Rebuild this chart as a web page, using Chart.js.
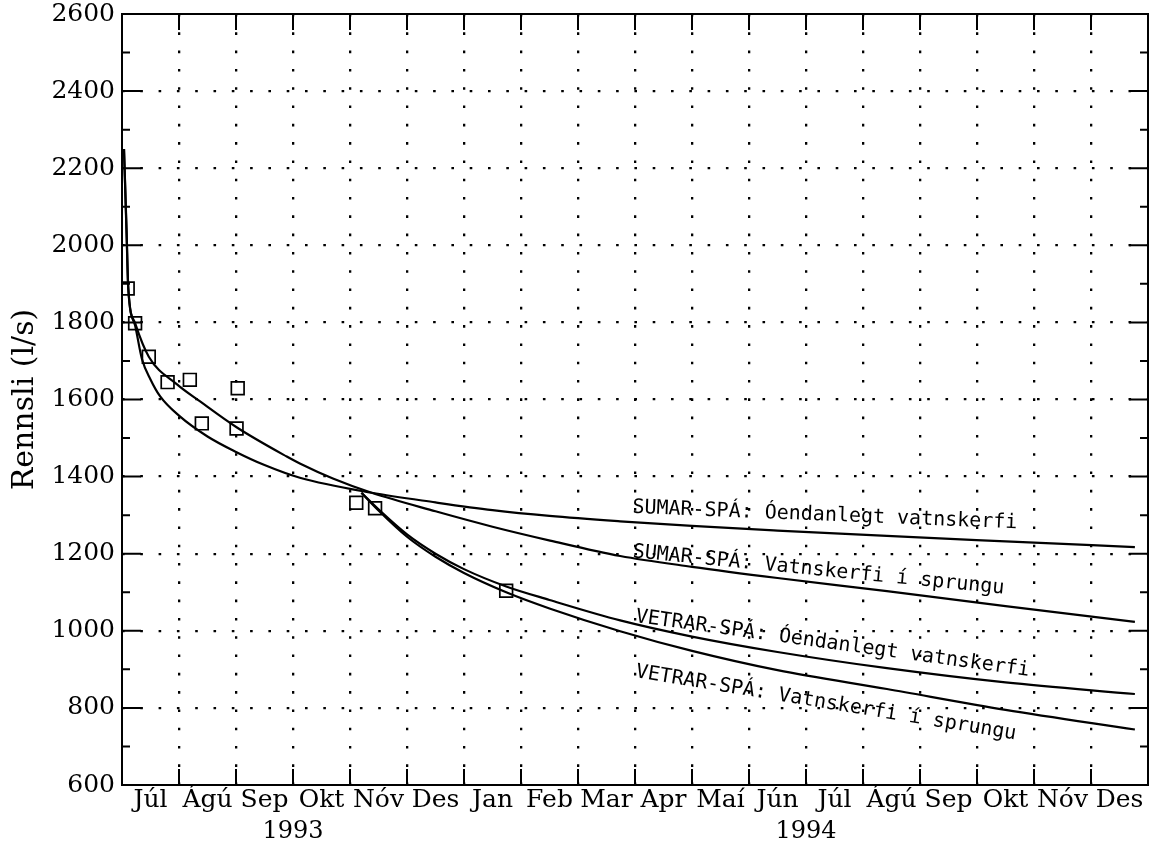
<!DOCTYPE html>
<html><head><meta charset="utf-8">
<script src="https://cdn.jsdelivr.net/npm/chart.js@4.4.0/dist/chart.umd.min.js"></script>
<style>html,body{margin:0;padding:0;background:#fff;} canvas{display:block;}</style>
</head><body>
<canvas id="c" width="1150" height="852"></canvas>
<script>
// ---- data (x in months from 1 July 1993) ----
const monthLabels = ['Júl','Ágú','Sep','Okt','Nóv','Des','Jan','Feb','Mar','Apr','Maí','Jún','Júl','Ágú','Sep','Okt','Nóv','Des'];
const yearLabels = ['1993','1994'];
const yearTickMonths = [3, 12];
const yTickValues = [600, 800, 1000, 1200, 1400, 1600, 1800, 2000, 2200, 2400, 2600];

const obsMonths = [0.10, 0.23, 0.47, 0.80, 1.19, 1.40, 2.03, 2.01, 4.11, 4.44, 6.74];
const obsFlow   = [1888, 1798, 1711, 1645, 1651, 1538, 1629, 1525, 1332, 1318, 1104];

const sumarInfMonths = [0.035, 0.08, 0.11, 0.23, 0.35, 0.5, 0.67, 1.0, 1.5, 2.0, 2.5, 3.12, 4.38, 5.5, 6.5, 7.5, 8.74, 10, 11.5, 13.42, 15.5, 17.77];
const sumarInfFlow   = [2250, 2040, 1890, 1792, 1705, 1652, 1608, 1558, 1504, 1464, 1430, 1397, 1358, 1333, 1313, 1298, 1284, 1272, 1260, 1246, 1232, 1217];

const sumarSprMonths = [0.035, 0.08, 0.11, 0.23, 0.47, 0.96, 1.37, 2.01, 2.89, 3.12, 3.7, 4.38, 5.5, 6.5, 7.51, 8.74, 10, 11.5, 13.42, 15.5, 17.77];
const sumarSprFlow   = [2250, 2030, 1888, 1798, 1711, 1640, 1595, 1528, 1452, 1434, 1395, 1358, 1310, 1270, 1234, 1194, 1166, 1137, 1103, 1064, 1023];

const vetrarMonths   = [4.2, 4.5, 5.0, 5.5, 6.0, 6.74, 7.5, 8.74, 10, 11.5, 13.42, 15.5, 17.77];
const vetrarInfFlow  = [1358, 1315, 1250, 1200, 1160, 1115, 1080, 1027, 985, 945, 903, 866, 836];
const vetrarSprFlow  = [1358, 1312, 1244, 1192, 1150, 1100, 1058, 999, 948, 898, 849, 795, 744];

const pts = (xs, ys) => xs.map((x, i) => ({x: x, y: ys[i]}));

// ---- annotation placement (data-anchored) ----
const annotations = [
  {text: 'SUMAR-SPÁ: Óendanlegt vatnskerfi', m: 8.95, v: 1306, angle: 2.3},
  {text: 'SUMAR-SPÁ: Vatnskerfi í sprungu',  m: 8.95, v: 1191, angle: 5.6},
  {text: 'VETRAR-SPÁ: Óendanlegt vatnskerfi', m: 9.0, v: 1023, angle: 7.8},
  {text: 'VETRAR-SPÁ: Vatnskerfi í sprungu',  m: 9.0, v: 880,  angle: 9.3}
];

const frameTicks = {
  id: 'frameTicks',
  afterDraw(chart) {
    const {ctx, chartArea: a, scales} = chart;
    const xs = scales.x, ys = scales.y;
    ctx.save();
    ctx.setLineDash([]);
    ctx.strokeStyle = '#000';
    ctx.lineWidth = 2;
    ctx.strokeRect(a.left, a.top, a.right - a.left, a.bottom - a.top);
    ctx.beginPath();
    for (let v = 700; v < 2600; v += 100) {
      const y = ys.getPixelForValue(v);
      const len = (v % 200 === 0) ? 19 : 8;
      ctx.moveTo(a.left, y); ctx.lineTo(a.left + len, y);
      ctx.moveTo(a.right, y); ctx.lineTo(a.right - len, y);
    }
    for (let m = 1; m < 18; m++) {
      const x = xs.getPixelForValue(m);
      ctx.moveTo(x, a.bottom); ctx.lineTo(x, a.bottom - 16);
      ctx.moveTo(x, a.top); ctx.lineTo(x, a.top + 16);
    }
    ctx.stroke();
    ctx.fillStyle = '#000';
    ctx.font = '20px "DejaVu Sans Mono"';
    ctx.textBaseline = 'alphabetic';
    ctx.textAlign = 'left';
    annotations.forEach(an => {
      ctx.save();
      ctx.translate(xs.getPixelForValue(an.m), ys.getPixelForValue(an.v));
      ctx.rotate(an.angle * Math.PI / 180);
      ctx.fillText(an.text, 0, 0);
      ctx.restore();
    });
    ctx.restore();
  }
};

const lineDs = (data) => ({
  type: 'line', data: data, borderColor: '#000', borderWidth: 2.2, pointRadius: 0,
  fill: false, cubicInterpolationMode: 'monotone'
});

const isHalf = v => Math.abs(v - Math.round(v)) > 0.01;

new Chart(document.getElementById('c').getContext('2d'), {
  type: 'line',
  data: {
    datasets: [
      lineDs(pts(sumarInfMonths, sumarInfFlow)),
      lineDs(pts(sumarSprMonths, sumarSprFlow)),
      lineDs(pts(vetrarMonths, vetrarInfFlow)),
      lineDs(pts(vetrarMonths, vetrarSprFlow)),
      {type: 'scatter', data: pts(obsMonths, obsFlow), showLine: false, pointStyle: 'rect',
       pointRadius: 9, borderColor: '#000', borderWidth: 1.7, backgroundColor: 'rgba(0,0,0,0)'}
    ]
  },
  options: {
    responsive: false, animation: false, devicePixelRatio: 1,
    layout: {autoPadding: false, padding: {top: 14, right: 2, left: 0, bottom: 0}},
    plugins: {legend: {display: false}, tooltip: {enabled: false}},
    scales: {
      x: {
        type: 'linear', min: 0, max: 18,
        afterBuildTicks: s => { const t = []; for (let i = 0; i <= 36; i++) t.push({value: i / 2}); s.ticks = t; },
        afterFit: s => { s.height = 67; s.paddingLeft = 0; s.paddingRight = 0; },
        ticks: {
          autoSkip: false, maxRotation: 0, minRotation: 0, padding: 0, color: '#000',
          font: c => (c.tick && isHalf(c.tick.value))
            ? {family: 'DejaVu Serif', size: 25, lineHeight: 1.2}
            : {family: 'DejaVu Serif', size: 24, lineHeight: 1.3},
          callback: (value) => {
            if (isHalf(value)) return monthLabels[Math.floor(value)];
            const k = yearTickMonths.indexOf(Math.round(value));
            return k >= 0 ? ['', yearLabels[k]] : '';
          }
        },
        grid: {
          drawTicks: false, lineWidth: 2.3,
          color: c => { const v = c.tick ? c.tick.value : -1; return (Number.isInteger(v) && v > 0 && v < 18) ? '#000' : 'rgba(0,0,0,0)'; }
        },
        border: {display: false, dash: [2.6, 15.7]}
      },
      y: {
        min: 600, max: 2600,
        afterBuildTicks: s => { s.ticks = yTickValues.map(v => ({value: v})); },
        afterFit: s => { s.width = 122; s.paddingTop = 0; s.paddingBottom = 0; },
        ticks: {color: '#000', padding: 7, font: {family: 'DejaVu Serif', size: 25}, callback: v => String(v)},
        grid: {
          drawTicks: false, lineWidth: 2.3,
          color: c => { const v = c.tick ? c.tick.value : 0; return (v > 600 && v < 2600) ? '#000' : 'rgba(0,0,0,0)'; }
        },
        border: {display: false, dash: [2.6, 15.7]},
        title: {display: true, text: 'Rennsli (l/s)', color: '#000', font: {family: 'DejaVu Serif', size: 30}, padding: {top: 7, bottom: 0}}
      }
    }
  },
  plugins: [frameTicks]
});
</script>
</body></html>
